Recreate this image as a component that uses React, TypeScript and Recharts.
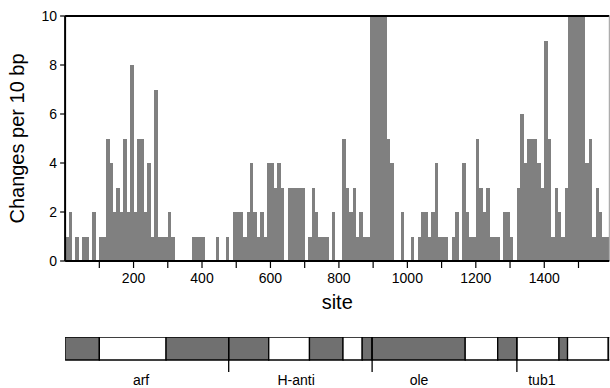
import React from 'react';
import {
  BarChart,
  Bar,
  XAxis,
  YAxis,
  Label,
  ReferenceLine,
  ReferenceArea,
  ComposedChart,
} from 'recharts';

/* -------------------------------------------------------
   DATA
-------------------------------------------------------- */
// changes per 10 bp window, one value per bin, starting at site 0
const changes = [
  1, 2, 0, 1, 0, 1, 1, 0, 2, 0,
  1, 1, 5, 4, 2, 3, 2, 5, 2, 8,
  2, 5, 5, 2, 4, 1, 7, 1, 1, 1,
  2, 1, 0, 0, 0, 0, 0, 1, 1, 1,
  1, 0, 0, 0, 1, 0, 0, 1, 0, 2,
  2, 2, 1, 2, 4, 2, 1, 2, 1, 4,
  4, 3, 4, 3, 0, 3, 3, 3, 3, 3,
  0, 1, 3, 2, 1, 1, 1, 0, 2, 0,
  0, 5, 3, 2, 3, 1, 2, 1, 1, 10,
  10, 10, 10, 10, 5, 4, 0, 0, 2, 0,
  0, 1, 0, 1, 2, 2, 1, 2, 4, 1,
  1, 1, 0, 1, 2, 0, 4, 2, 1, 1,
  5, 3, 2, 3, 1, 1, 1, 0, 2, 2,
  1, 0, 3, 6, 4, 5, 5, 5, 4, 3,
  9, 5, 1, 3, 2, 1, 3, 10, 10, 10,
  10, 10, 4, 5, 1, 3, 2, 1, 1,
];

const binWidth = 10;
const siteMax = 1590;

const xTicks = [100, 200, 300, 400, 500, 600, 700, 800, 900, 1000, 1100, 1200, 1300, 1400, 1500];
const xTickLabels = ['', '200', '', '400', '', '600', '', '800', '', '1000', '', '1200', '', '1400', ''];
const yTicks = [0, 2, 4, 6, 8, 10];

// gene map below the histogram
const segStart = [0, 100, 295, 478, 595, 714, 812, 868, 897, 1169, 1264, 1320, 1443, 1468, 1587];
const segEnd = [100, 295, 478, 595, 714, 812, 868, 897, 1169, 1264, 1320, 1443, 1468, 1587, 1620];
const segShaded = [true, false, true, true, false, true, false, true, true, false, true, false, true, false, true];

const geneBounds = [478, 897, 1320];
const geneNames = ['arf', 'H-anti', 'ole', 'tub1'];
const geneLabelSites = [222, 675, 1034, 1393];

const bins = changes.map((v, i) => ({ site: i * binWidth + binWidth / 2, changes: v }));

/* -------------------------------------------------------
   LAYOUT
-------------------------------------------------------- */
const FONT = '"Liberation Sans", Arial, Helvetica, sans-serif';
const CHART_W = 610;
const PLOT_LEFT = 65.1;
const PLOT_RIGHT_GAP = 0.7;
const Y_AXIS_W = 45.1;
// recharts truncates bar widths to whole pixels, so widen each bar to the full bin
const binPx = ((CHART_W - PLOT_LEFT - PLOT_RIGHT_GAP) * binWidth) / siteMax;

const BinBar = (props: any) => {
  const { x, y, height, fill } = props;
  if (!height || height <= 0) return null;
  return <rect x={x} y={y} width={binPx} height={height} fill={fill} shapeRendering="crispEdges" />;
};

/* -------------------------------------------------------
   COMPONENT
-------------------------------------------------------- */
export default function App() {
  return (
    <div
      style={{
        position: 'absolute',
        left: 0,
        top: 0,
        width: 610,
        height: 388,
        background: '#fff',
        fontFamily: FONT,
      }}
    >
      <div style={{ position: 'absolute', left: 0, top: 0 }}>
        <BarChart
          width={CHART_W}
          height={322}
          data={bins}
          margin={{ top: 16, right: PLOT_RIGHT_GAP, left: PLOT_LEFT - Y_AXIS_W, bottom: 12 }}
          barCategoryGap={0}
          barGap={0}
        >
          <XAxis
            dataKey="site"
            type="number"
            domain={[0, siteMax]}
            ticks={xTicks}
            tickFormatter={(v: number) => xTickLabels[xTicks.indexOf(v)] ?? ''}
            interval={0}
            height={49}
            tickSize={7}
            tickMargin={5}
            allowDataOverflow
            axisLine={{ stroke: '#000', strokeWidth: 2 }}
            tickLine={{ stroke: '#000', strokeWidth: 1.2 }}
            tick={{ fill: '#000', fontSize: 14, fontFamily: FONT }}
          >
            <Label
              value="site"
              position="insideBottom"
              offset={1}
              style={{ fontSize: 20, fill: '#000', fontFamily: FONT }}
            />
          </XAxis>
          <YAxis
            type="number"
            domain={[0, 10]}
            ticks={yTicks}
            interval={0}
            width={Y_AXIS_W}
            tickSize={5}
            tickMargin={3}
            allowDataOverflow
            axisLine={{ stroke: '#000', strokeWidth: 2 }}
            tickLine={{ stroke: '#000', strokeWidth: 1.2 }}
            tick={{ fill: '#000', fontSize: 14, fontFamily: FONT }}
          >
            <Label
              value="Changes per 10 bp"
              angle={-90}
              position="left"
              offset={3}
              style={{ fontSize: 20, fill: '#000', textAnchor: 'middle', fontFamily: FONT }}
            />
          </YAxis>
          <ReferenceLine y={10} stroke="#000" strokeWidth={2} />
          <ReferenceLine x={siteMax} stroke="#999" strokeWidth={1} />
          <Bar dataKey="changes" fill="#808080" shape={BinBar} isAnimationActive={false} />
        </BarChart>
      </div>

      <div style={{ position: 'absolute', left: 0, top: 330 }}>
        <ComposedChart
          width={CHART_W}
          height={58}
          data={bins}
          margin={{ top: 7, right: PLOT_RIGHT_GAP, left: PLOT_LEFT, bottom: 0 }}
        >
          <XAxis
            dataKey="site"
            type="number"
            domain={[0, siteMax]}
            ticks={geneLabelSites}
            tickFormatter={(v: number) => geneNames[geneLabelSites.indexOf(v)] ?? ''}
            interval={0}
            height={15.35}
            tickSize={0}
            tickMargin={2}
            allowDataOverflow
            axisLine={false}
            tickLine={false}
            tick={{ fill: '#000', fontSize: 14, fontFamily: FONT }}
          />
          <YAxis hide type="number" domain={[-0.55, 1]} allowDataOverflow />
          {segStart.map((s, i) => (
            <ReferenceArea
              key={`seg-${i}`}
              x1={s}
              x2={segEnd[i]}
              y1={0}
              y2={1}
              fill={segShaded[i] ? '#707070' : '#ffffff'}
              fillOpacity={1}
              stroke="#000"
              strokeWidth={1.3}
              ifOverflow="hidden"
            />
          ))}
          {geneBounds.map((b) => (
            <ReferenceLine
              key={`gb-${b}`}
              segment={[
                { x: b, y: 1 },
                { x: b, y: -0.52 },
              ]}
              stroke="#000"
              strokeWidth={1.3}
            />
          ))}
        </ComposedChart>
      </div>
    </div>
  );
}
